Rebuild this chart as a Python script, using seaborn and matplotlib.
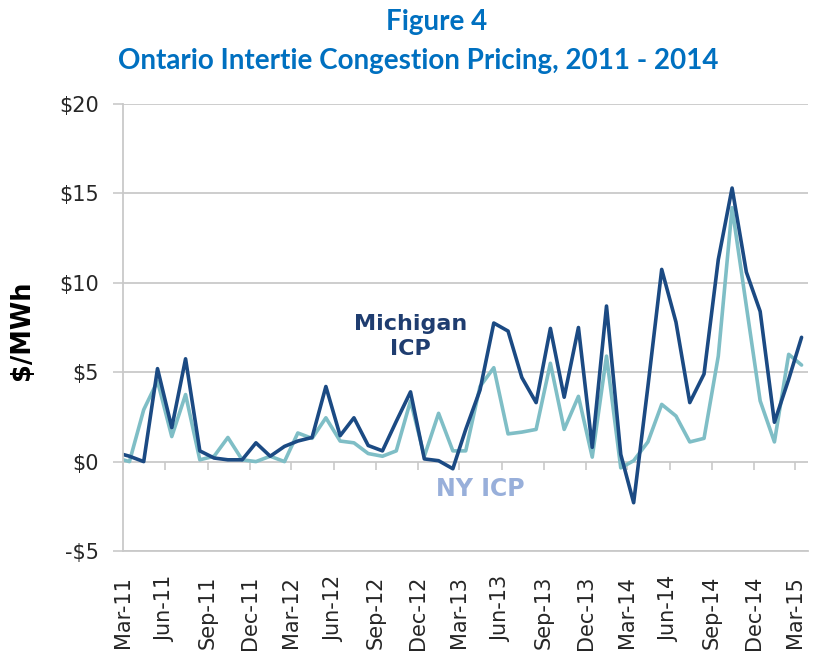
import numpy as np
import pandas as pd
import matplotlib
matplotlib.use("Agg")
import matplotlib.pyplot as plt
from matplotlib.transforms import ScaledTranslation
import seaborn as sns

# ---- data (monthly, plotted mid-month) ----
months = pd.period_range("2011-02", "2015-03", freq="M").strftime("%Y-%m").tolist()
michigan = [0.5, 0.3, 0.0, 5.2, 1.9, 5.75, 0.6, 0.2, 0.1, 0.1, 1.05,
            0.3, 0.85, 1.15, 1.35, 4.2, 1.45, 2.45, 0.9, 0.6, 2.25, 3.9, 0.15,
            0.05, -0.4, 1.8, 4.0, 7.75, 7.3, 4.7, 3.3, 7.45, 3.6, 7.5, 0.8,
            8.7, 0.4, -2.3, 4.2, 10.75, 7.8, 3.3, 4.9, 11.3, 15.3, 10.6, 8.4,
            2.2, 4.6, 6.95]
ny = [0.2, 0.0, 2.9, 4.5, 1.4, 3.75, 0.1, 0.3, 1.35, 0.1, 0.0,
      0.3, 0.0, 1.6, 1.3, 2.45, 1.15, 1.05, 0.45, 0.3, 0.6, 3.4, 0.3,
      2.7, 0.6, 0.6, 4.2, 5.25, 1.55, 1.65, 1.8, 5.5, 1.8, 3.65, 0.25,
      5.9, -0.35, 0.05, 1.1, 3.2, 2.55, 1.1, 1.3, 5.9, 14.2, 8.7, 3.4,
      1.1, 6.0, 5.4]
series_names = ["Michigan ICP", "NY ICP"]
y_ticks = [-5, 0, 5, 10, 15, 20]
y_tick_labels = ["-$5", "$0", "$5", "$10", "$15", "$20"]
x_tick_months = pd.date_range("2011-03-01", "2015-03-01", freq="3MS")

dates = pd.to_datetime(months) + pd.Timedelta(days=14)
df = pd.DataFrame({
    "date": np.concatenate([dates, dates]),
    "value": michigan + ny,
    "series": [series_names[0]] * len(months) + [series_names[1]] * len(months),
})

dark = "#1B4A83"
light = "#7FBEC6"
grid_c = "#C9C9C9"

sns.set_theme(style="white")
plt.rcParams["font.family"] = ["DejaVu Sans"]

fig = plt.figure(figsize=(8.14, 6.56), dpi=100)
ax = fig.add_axes([123 / 814, 1 - 551 / 656, (808 - 123) / 814, (551 - 104) / 656])

sns.lineplot(data=df, x="date", y="value", hue="series",
             palette={series_names[0]: dark, series_names[1]: light},
             hue_order=[series_names[1], series_names[0]],
             linewidth=2.6, legend=False, ax=ax)

ax.set_ylim(-5, 20)
ax.set_xlim(pd.Timestamp("2011-03-01"), pd.Timestamp("2015-03-29"))
ax.set_yticks(y_ticks)
ax.set_yticklabels(y_tick_labels)
for y in y_ticks:
    ax.axhline(y, color=grid_c, lw=1.3, zorder=0)

ax.set_xticks(x_tick_months)
ax.set_xticklabels([d.strftime("%b-%y") for d in x_tick_months], rotation=90)
for lab in ax.get_xticklabels():
    lab.set_transform(lab.get_transform() + ScaledTranslation(4 / 72, 0, fig.dpi_scale_trans))

ax.tick_params(axis="x", length=0, pad=18, labelsize=15, labelcolor="#262626")
ax.tick_params(axis="y", length=7.2, width=1.2, color=grid_c, pad=10, labelsize=15,
               labelcolor="#262626", left=True)
for s in ["top", "right"]:
    ax.spines[s].set_visible(False)
ax.spines["left"].set_color(grid_c)
ax.spines["left"].set_linewidth(1.3)
ax.spines["bottom"].set_color(grid_c)
ax.spines["bottom"].set_linewidth(1.3)
ax.set_xlabel("")
ax.set_ylabel("")

# tick marks hanging from the $0 line
sec = ax.secondary_xaxis(0.2)
sec.set_xticks(x_tick_months)
sec.set_xticklabels([])
sec.tick_params(axis="x", length=6, width=1.2, color=grid_c, direction="out")
sec.spines["bottom"].set_visible(False)

# series labels
ax.text(pd.Timestamp("2012-11-15"), 7.0, "Michigan\nICP", color="#1F3D70",
        fontsize=16, fontweight="bold", ha="center", va="center", linespacing=1.3)
ax.text(pd.Timestamp("2013-04-15"), -1.55, "NY ICP", color="#98AFDA",
        fontsize=17, fontweight="bold", ha="center", va="center")

# y label and titles
fig.text(22 / 814, 1 - 330 / 656, "$/MWh", rotation=90, fontsize=18.5, fontweight="bold",
         ha="center", va="center", color="black")
fig.text(437 / 814, 1 - 22 / 656, "Figure 4", fontsize=20, fontweight="bold",
         ha="center", va="center", color="#0070C0", family="Lato")
fig.text(418 / 814, 1 - 61 / 656, "Ontario Intertie Congestion Pricing, 2011 - 2014",
         fontsize=20, fontweight="bold", ha="center", va="center", color="#0070C0",
         family="Lato")

fig.savefig("out.png", dpi=100)
